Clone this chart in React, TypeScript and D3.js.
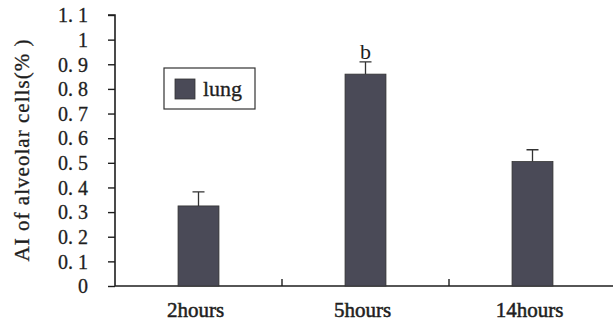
import React, { useEffect, useRef } from "react";
import * as d3 from "d3";

const categories = ["2hours", "5hours", "14hours"];
const means = [0.325, 0.86, 0.505];
const errors = [0.057, 0.05, 0.048];
const marks = ["", "b", ""];
const yTicks = [0, 0.1, 0.2, 0.3, 0.4, 0.5, 0.6, 0.7, 0.8, 0.9, 1, 1.1];
const yTickLabels = ["0", "0. 1", "0. 2", "0. 3", "0. 4", "0. 5", "0. 6", "0. 7", "0. 8", "0. 9", "1", "1. 1"];
const seriesName = "lung";

export default function App() {
  const ref = useRef<SVGSVGElement>(null);

  useEffect(() => {
    const svg = d3.select(ref.current);
    svg.selectAll("*").remove();
    const width = 613, height = 322;
    const margin = { top: 15, right: -3, bottom: 36, left: 115 };
    const barColor = "#4a4a57";
    const ink = "#1e1e1e";
    const font = "'Liberation Serif', 'DejaVu Serif', serif";

    const x = d3.scaleBand().domain(categories).range([margin.left, width - margin.right]).paddingInner(0).paddingOuter(0);
    const y = d3.scaleLinear().domain([0, 1.1]).range([height - margin.bottom, margin.top]);
    const barW = x.bandwidth() * 0.245;

    // y axis
    const yAxis = svg.append("g").attr("transform", `translate(${margin.left},0)`)
      .call(d3.axisLeft(y).tickValues(yTicks).tickSize(7).tickPadding(20)
        .tickFormat((d, i) => yTickLabels[i]));
    yAxis.select(".domain").attr("stroke", ink).attr("stroke-width", 1.6).attr("d", `M-7,${y(1.1)}H0V${y(0)}`);
    yAxis.selectAll(".tick line").attr("stroke", ink).attr("stroke-width", 1.4);
    yAxis.selectAll(".tick text").attr("font-family", font).attr("font-size", 20)
      .attr("fill", ink).attr("stroke", ink).attr("stroke-width", 0.3).attr("dy", "0.34em");

    // x axis
    const xAxis = svg.append("g").attr("transform", `translate(0,${y(0)})`);
    xAxis.append("line").attr("x1", margin.left).attr("x2", width).attr("y1", 0).attr("y2", 0)
      .attr("stroke", ink).attr("stroke-width", 1.6);
    xAxis.selectAll(".sep").data(categories.slice(1)).enter().append("line")
      .attr("x1", d => x(d)!).attr("x2", d => x(d)!).attr("y1", 0).attr("y2", -7)
      .attr("stroke", ink).attr("stroke-width", 1.4);
    xAxis.selectAll(".lab").data(categories).enter().append("text")
      .attr("x", d => x(d)! + x.bandwidth() / 2 - 3).attr("y", 31)
      .attr("text-anchor", "middle").attr("font-family", font).attr("font-size", 21)
      .attr("fill", ink).attr("stroke", ink).attr("stroke-width", 0.5).text(d => d);

    // y label
    svg.append("text")
      .attr("transform", `translate(29,${(y(0) + y(1.1)) / 2}) rotate(-90)`)
      .attr("text-anchor", "middle").attr("font-family", font).attr("font-size", 21)
      .attr("fill", ink).attr("stroke", ink).attr("stroke-width", 0.3)
      .attr("textLength", 222).attr("lengthAdjust", "spacing")
      .text("AI of alveolar cells(% )");

    const g = svg.append("g");
    // error bars
    g.selectAll(".err").data(categories).enter().append("path")
      .attr("d", (d, i) => {
        const cx = x(d)! + x.bandwidth() / 2;
        const top = y(means[i] + errors[i]);
        return `M${cx},${y(means[i])}V${top}M${cx - 6},${top}H${cx + 6}`;
      })
      .attr("stroke", "#333").attr("stroke-width", 1.3).attr("fill", "none");

    g.selectAll(".bar").data(categories).enter().append("rect")
      .attr("x", d => x(d)! + x.bandwidth() / 2 - barW / 2)
      .attr("y", (d, i) => y(means[i]))
      .attr("width", barW)
      .attr("height", (d, i) => y(0) - y(means[i]))
      .attr("fill", barColor).attr("stroke", "#333").attr("stroke-width", 0.8);

    g.selectAll(".mark").data(categories).enter().append("text")
      .attr("x", d => x(d)! + x.bandwidth() / 2)
      .attr("y", (d, i) => y(means[i] + errors[i]) - 3)
      .attr("text-anchor", "middle").attr("font-family", font).attr("font-size", 22)
      .attr("fill", ink).text((d, i) => marks[i]);

    // legend
    const lg = svg.append("g").attr("transform", "translate(164,68)");
    lg.append("rect").attr("width", 91).attr("height", 41).attr("fill", "white")
      .attr("stroke", "#333").attr("stroke-width", 1.2);
    lg.append("rect").attr("x", 11).attr("y", 11).attr("width", 20).attr("height", 20)
      .attr("fill", barColor).attr("stroke", "#333").attr("stroke-width", 0.8);
    lg.append("text").attr("x", 39).attr("y", 28).attr("font-family", font).attr("font-size", 22)
      .attr("fill", ink).attr("stroke", ink).attr("stroke-width", 0.3).text(seriesName);
  }, []);

  return (
    <svg ref={ref} width={613} height={322} style={{ position: "absolute", left: 0, top: 0, background: "white" }} />
  );
}
